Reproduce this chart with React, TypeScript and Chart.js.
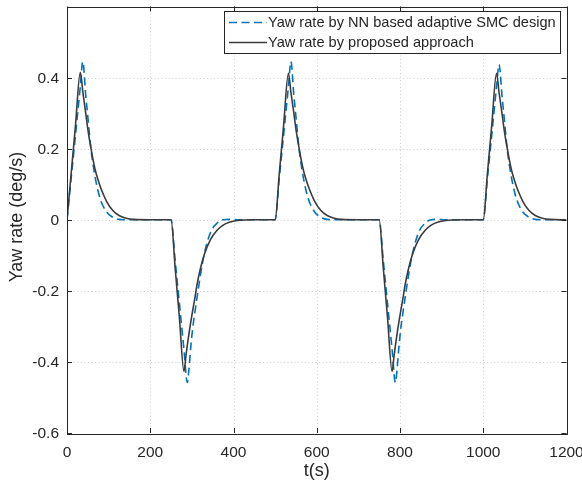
import React, { useEffect, useRef } from "react";
import { Chart, registerables } from "chart.js";

Chart.register(...registerables);

const legendLabels = [
  "Yaw rate by NN based adaptive SMC design",
  "Yaw rate by proposed approach",
];
const xTickLabels = ["0", "200", "400", "600", "800", "1000", "1200"];
const yTickLabels = ["-0.6", "-0.4", "-0.2", "0", "0.2", "0.4"];

const blackTime = [
  0, 10, 20, 32, 38, 45, 50, 57, 65, 70, 78, 85, 95, 110, 125, 140, 160, 200,
  250, 260, 270, 281, 286, 290, 295, 302, 307, 312, 320, 330, 345, 360, 375, 390, 410, 450,
  500, 510, 520, 532, 538, 545, 550, 557, 565, 570, 578, 585, 595, 610, 625, 640, 660, 700,
  750, 760, 770, 781, 786, 790, 795, 802, 807, 812, 820, 830, 845, 860, 875, 890, 910, 950,
  1000, 1010, 1020, 1032, 1038, 1045, 1050, 1057, 1065, 1070, 1078, 1085, 1095, 1110, 1125, 1140, 1160, 1200,
];
const blackRate = [
  0, 0.13, 0.26, 0.415, 0.36, 0.3, 0.255, 0.205, 0.155, 0.13, 0.1, 0.078, 0.052, 0.026, 0.012, 0.005, 0.001, 0,
  0, -0.138, -0.275, -0.427, -0.38, -0.345, -0.305, -0.255, -0.222, -0.185, -0.14, -0.097, -0.055, -0.03, -0.015, -0.007, -0.002, 0,
  0, 0.13, 0.26, 0.412, 0.358, 0.3, 0.255, 0.205, 0.155, 0.13, 0.1, 0.078, 0.052, 0.026, 0.012, 0.005, 0.001, 0,
  0, -0.138, -0.275, -0.427, -0.38, -0.345, -0.305, -0.255, -0.222, -0.185, -0.14, -0.097, -0.055, -0.03, -0.015, -0.007, -0.002, 0,
  0, 0.13, 0.26, 0.412, 0.358, 0.3, 0.255, 0.205, 0.155, 0.13, 0.1, 0.078, 0.052, 0.026, 0.012, 0.005, 0.001, 0,
];

const blueTime = [
  0, 10, 20, 32, 38, 45, 50, 57, 62, 70, 80, 95, 110, 125, 140, 160, 200,
  250, 260, 270, 281, 289, 293, 298, 302, 307, 312, 320, 330, 345, 360, 375, 390, 410, 450,
  500, 510, 520, 532, 538, 545, 550, 557, 562, 570, 580, 595, 610, 625, 640, 660, 700,
  750, 760, 770, 781, 789, 793, 798, 802, 807, 812, 820, 830, 845, 860, 875, 890, 910, 950,
  1000, 1010, 1020, 1032, 1038, 1045, 1050, 1057, 1062, 1070, 1080, 1095, 1110, 1125, 1140, 1160, 1200,
];
const blueRate = [
  0, 0.117, 0.234, 0.375, 0.445, 0.35, 0.29, 0.205, 0.16, 0.105, 0.058, 0.022, 0.007, 0.001, 0, 0, 0,
  0, -0.117, -0.235, -0.365, -0.458, -0.42, -0.35, -0.305, -0.262, -0.222, -0.16, -0.095, -0.035, -0.01, 0, 0.001, 0, 0,
  0, 0.117, 0.234, 0.375, 0.445, 0.35, 0.29, 0.205, 0.16, 0.105, 0.058, 0.022, 0.007, 0.001, 0, 0, 0,
  0, -0.117, -0.235, -0.365, -0.458, -0.42, -0.35, -0.305, -0.262, -0.222, -0.16, -0.095, -0.035, -0.01, 0, 0.001, 0, 0,
  0, 0.117, 0.234, 0.375, 0.437, 0.35, 0.29, 0.205, 0.16, 0.105, 0.058, 0.022, 0.007, 0.001, 0, 0, 0,
];

const BLUE = "#0072BD";
const BLACK = "#3c3c3c";
const AXIS = "#262626";
const FONT = '"Liberation Sans", Arial, Helvetica, sans-serif';

const matlabPlugin = {
  id: "matlabStyle",
  beforeDatasetsDraw(chart: any) {
    const { ctx, chartArea: a, scales } = chart;
    const xs = scales.x, ys = scales.y;
    ctx.save();
    ctx.strokeStyle = "#cfcfcf";
    ctx.lineWidth = 1;
    ctx.setLineDash([1, 2.5]);
    xs.ticks.forEach((t: any) => {
      const px = Math.round(xs.getPixelForValue(t.value)) + 0.5;
      if (px <= a.left + 1 || px >= a.right - 1) return;
      ctx.beginPath();
      ctx.moveTo(px, a.top);
      ctx.lineTo(px, a.bottom);
      ctx.stroke();
    });
    ys.ticks.forEach((t: any) => {
      const py = Math.round(ys.getPixelForValue(t.value)) + 0.5;
      if (py <= a.top + 1 || py >= a.bottom - 1) return;
      ctx.beginPath();
      ctx.moveTo(a.left, py);
      ctx.lineTo(a.right, py);
      ctx.stroke();
    });
    ctx.restore();
  },
  afterDatasetsDraw(chart: any) {
    const { ctx, chartArea: a, scales } = chart;
    const xs = scales.x, ys = scales.y;
    ctx.save();
    ctx.setLineDash([]);
    ctx.strokeStyle = AXIS;
    ctx.lineWidth = 1;
    ctx.strokeRect(Math.round(a.left) + 0.5, Math.round(a.top) + 0.5, Math.round(a.right - a.left), Math.round(a.bottom - a.top));
    const tl = 5;
    xs.ticks.forEach((t: any) => {
      const px = Math.round(xs.getPixelForValue(t.value)) + 0.5;
      ctx.beginPath();
      ctx.moveTo(px, a.bottom);
      ctx.lineTo(px, a.bottom - tl);
      ctx.moveTo(px, a.top);
      ctx.lineTo(px, a.top + tl);
      ctx.stroke();
    });
    ys.ticks.forEach((t: any) => {
      const py = Math.round(ys.getPixelForValue(t.value)) + 0.5;
      ctx.beginPath();
      ctx.moveTo(a.left, py);
      ctx.lineTo(a.left + tl, py);
      ctx.moveTo(a.right, py);
      ctx.lineTo(a.right - tl, py);
      ctx.stroke();
    });
    ctx.fillStyle = AXIS;
    ctx.font = `15.5px ${FONT}`;
    ctx.textAlign = "center";
    ctx.textBaseline = "middle";
    xs.ticks.forEach((t: any, i: number) => {
      const lbl = xTickLabels[i];
      if (lbl === undefined) return;
      ctx.fillText(lbl, xs.getPixelForValue(t.value), a.bottom + 19.5);
    });
    ctx.textAlign = "right";
    ys.ticks.forEach((t: any, i: number) => {
      const lbl = yTickLabels[i];
      if (lbl === undefined) return;
      ctx.fillText(lbl, a.left - 8, ys.getPixelForValue(t.value) + 1);
    });
    ctx.font = `18px ${FONT}`;
    ctx.textAlign = "center";
    ctx.fillText("t(s)", (a.left + a.right) / 2, a.bottom + 38);
    ctx.save();
    ctx.translate(17.5, 217);
    ctx.rotate(-Math.PI / 2);
    ctx.fillText("Yaw rate (deg/s)", 0, 0);
    ctx.restore();
    const lx = 224.5, ly = 11.5, lw = 336, lh = 42;
    ctx.fillStyle = "#ffffff";
    ctx.fillRect(lx, ly, lw, lh);
    ctx.strokeStyle = AXIS;
    ctx.strokeRect(lx, ly, lw, lh);
    const rows = [
      { y: 22.5, color: BLUE, dash: [8, 4.5] },
      { y: 42.5, color: BLACK, dash: [] as number[] },
    ];
    rows.forEach((r, i) => {
      ctx.strokeStyle = r.color;
      ctx.lineWidth = 1.6;
      ctx.setLineDash(r.dash);
      ctx.beginPath();
      ctx.moveTo(229, r.y);
      ctx.lineTo(267, r.y);
      ctx.stroke();
      ctx.setLineDash([]);
      ctx.fillStyle = AXIS;
      ctx.font = `14.6px ${FONT}`;
      ctx.textAlign = "left";
      ctx.textBaseline = "middle";
      ctx.fillText(legendLabels[i], 268, r.y + 0.5);
    });
    ctx.restore();
  },
};

export default function App() {
  const ref = useRef<HTMLCanvasElement | null>(null);
  useEffect(() => {
    document.body.style.margin = "0";
    const canvas = ref.current;
    if (!canvas) return;
    const chart = new Chart(canvas, {
      type: "line",
      data: {
        datasets: [
          {
            label: legendLabels[0],
            data: blueTime.map((t, i) => ({ x: t, y: blueRate[i] })),
            borderColor: BLUE,
            borderWidth: 1.6,
            borderDash: [8, 4.5],
            pointRadius: 0,
            fill: false,
            cubicInterpolationMode: "monotone",
            order: 2,
          },
          {
            label: legendLabels[1],
            data: blackTime.map((t, i) => ({ x: t, y: blackRate[i] })),
            borderColor: BLACK,
            borderWidth: 1.6,
            pointRadius: 0,
            fill: false,
            cubicInterpolationMode: "monotone",
            order: 1,
          },
        ],
      },
      options: {
        animation: false,
        responsive: false,
        layout: { padding: { top: 6.5, right: 15.5, left: 0, bottom: 0 } },
        plugins: { legend: { display: false }, tooltip: { enabled: false } },
        scales: {
          x: {
            type: "linear",
            min: 0,
            max: 1200,
            ticks: { stepSize: 200, display: false },
            grid: { display: false },
            border: { display: false },
            afterFit: (s: any) => { s.height = 54; },
          },
          y: {
            type: "linear",
            min: -0.6,
            max: 0.6,
            ticks: { stepSize: 0.2, display: false },
            grid: { display: false },
            border: { display: false },
            afterFit: (s: any) => { s.width = 67; },
          },
        },
      },
      plugins: [matlabPlugin],
    } as any);
    return () => chart.destroy();
  }, []);
  return (
    <div style={{ position: "fixed", left: 0, top: 0, width: 582, height: 487, background: "#fff" }}>
      <canvas ref={ref} width={582} height={487} style={{ width: 582, height: 487 }} />
    </div>
  );
}
